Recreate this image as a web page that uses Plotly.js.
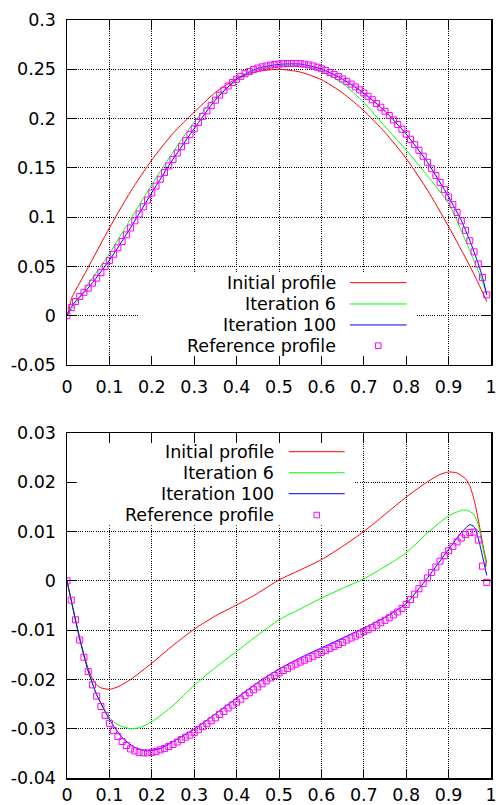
<!DOCTYPE html>
<html>
<head>
<meta charset="utf-8">
<script src="https://cdn.plot.ly/plotly-3.0.1.min.js"></script>
<style>html,body{margin:0;padding:0;background:#fff;}#chart{width:500px;height:805px;}</style>
</head>
<body>
<div id="chart"></div>
<script>
// ---------- data ----------
const legendLabels = ['Initial profile', 'Iteration 6', 'Iteration 100', 'Reference profile'];

const xTickVals = [0, 0.1, 0.2, 0.3, 0.4, 0.5, 0.6, 0.7, 0.8, 0.9, 1];
const xTickText = ['0', '0.1', '0.2', '0.3', '0.4', '0.5', '0.6', '0.7', '0.8', '0.9', '1'];
const topYTickVals = [-0.05, 0, 0.05, 0.1, 0.15, 0.2, 0.25, 0.3];
const topYTickText = ['-0.05', '0', '0.05', '0.1', '0.15', '0.2', '0.25', '0.3'];
const botYTickVals = [-0.04, -0.03, -0.02, -0.01, 0, 0.01, 0.02, 0.03];
const botYTickText = ['-0.04', '-0.03', '-0.02', '-0.01', '0', '0.01', '0.02', '0.03'];

// reference profile abscissae (shared by both panels)
const refX = [0, 0.01, 0.02, 0.03, 0.04, 0.05, 0.06, 0.07, 0.08, 0.09,
  0.10, 0.11, 0.12, 0.13, 0.14, 0.15, 0.16, 0.17, 0.18, 0.19,
  0.20, 0.21, 0.22, 0.23, 0.24, 0.25, 0.26, 0.27, 0.28, 0.29,
  0.30, 0.31, 0.32, 0.33, 0.34, 0.35, 0.36, 0.37, 0.38, 0.39,
  0.40, 0.41, 0.42, 0.43, 0.44, 0.45, 0.46, 0.47, 0.48, 0.49,
  0.50, 0.51, 0.52, 0.53, 0.54, 0.55, 0.56, 0.57, 0.58, 0.59,
  0.60, 0.61, 0.62, 0.63, 0.64, 0.65, 0.66, 0.67, 0.68, 0.69,
  0.70, 0.71, 0.72, 0.73, 0.74, 0.75, 0.76, 0.77, 0.78, 0.79,
  0.80, 0.81, 0.82, 0.83, 0.84, 0.85, 0.86, 0.87, 0.88, 0.89,
  0.90, 0.91, 0.92, 0.93, 0.94, 0.95, 0.96, 0.97, 0.98, 0.99];

// ---- top panel ----
const topRefY = [0, 0.0082, 0.0143, 0.0194, 0.0237, 0.0279, 0.0330, 0.0381, 0.0437, 0.0498,
  0.0559, 0.0623, 0.0689, 0.0753, 0.0820, 0.0890, 0.0962, 0.1032, 0.1105, 0.1174,
  0.1245, 0.1315, 0.1384, 0.1452, 0.1519, 0.1585, 0.1650, 0.1714, 0.1776, 0.1837,
  0.1895, 0.1960, 0.2022, 0.2078, 0.2132, 0.2186, 0.2238, 0.2287, 0.2330, 0.2366,
  0.2400, 0.2428, 0.2455, 0.2478, 0.2497, 0.2512, 0.2524, 0.2534, 0.2542, 0.2548,
  0.2553, 0.2556, 0.2558, 0.2559, 0.2559, 0.2557, 0.2552, 0.2544, 0.2534, 0.2521,
  0.2505, 0.2487, 0.2468, 0.2448, 0.2426, 0.2402, 0.2377, 0.2350, 0.2321, 0.2291,
  0.2259, 0.2226, 0.2191, 0.2154, 0.2115, 0.2074, 0.2031, 0.1986, 0.1940, 0.1892,
  0.1842, 0.1790, 0.1735, 0.1678, 0.1618, 0.1556, 0.1491, 0.1423, 0.1352, 0.1279,
  0.1204, 0.1127, 0.1047, 0.0962, 0.0866, 0.0760, 0.0648, 0.0525, 0.0388, 0.0212];

const topInitX = [0, 0.004, 0.008, 0.012, 0.02, 0.05, 0.1, 0.15, 0.2, 0.25, 0.3, 0.35, 0.4, 0.45, 0.5,
  0.55, 0.6, 0.65, 0.7, 0.75, 0.8, 0.85, 0.9, 0.95, 0.97, 0.99];
const topInitY = [0, 0.005, 0.013, 0.019, 0.0255, 0.049, 0.089, 0.126, 0.158, 0.185, 0.2065, 0.2265, 0.2405, 0.2478, 0.2500,
  0.2472, 0.2395, 0.2260, 0.2080, 0.1860, 0.1595, 0.1275, 0.0905, 0.0505, 0.0330, 0.0143];

const topIt6X = [0, 0.02, 0.05, 0.1, 0.15, 0.2, 0.25, 0.3, 0.35, 0.4, 0.45, 0.5, 0.53, 0.55, 0.6,
  0.65, 0.7, 0.75, 0.8, 0.85, 0.9, 0.925, 0.95, 0.975, 0.99];
const topIt6Y = [0, 0.012, 0.032, 0.063, 0.098, 0.133, 0.166, 0.1965, 0.221, 0.2385, 0.2495, 0.2535, 0.2540, 0.2535, 0.2485,
  0.2355, 0.2165, 0.1920, 0.1680, 0.1420, 0.1140, 0.0910, 0.0660, 0.0400, 0.0215];

const topIt100X = [0, 0.01, 0.02, 0.05, 0.1, 0.15, 0.2, 0.25, 0.3, 0.35, 0.4, 0.45, 0.5, 0.55, 0.6,
  0.65, 0.7, 0.75, 0.8, 0.85, 0.9, 0.93, 0.95, 0.97, 0.98, 0.99];
const topIt100Y = [0, 0.0085, 0.0145, 0.0281, 0.0562, 0.0893, 0.1248, 0.1588, 0.1898, 0.2188, 0.2400, 0.2510, 0.2550, 0.2553, 0.2502,
  0.2400, 0.2258, 0.2075, 0.1842, 0.1557, 0.1206, 0.0965, 0.0762, 0.0527, 0.0390, 0.0213];

// ---- bottom panel ----
const botRefY = [0, -0.0039, -0.0079, -0.0120, -0.0155, -0.0184, -0.0211, -0.0234, -0.0255, -0.0273,
  -0.0289, -0.0304, -0.0316, -0.0326, -0.0334, -0.0341, -0.0345, -0.0348, -0.0349, -0.0349,
  -0.0348, -0.0346, -0.0343, -0.0340, -0.0336, -0.0332, -0.0327, -0.0322, -0.0317, -0.0313,
  -0.0308, -0.0302, -0.0296, -0.0290, -0.0284, -0.0278, -0.0271, -0.0265, -0.0258, -0.0252,
  -0.0246, -0.0240, -0.0233, -0.0227, -0.0221, -0.0215, -0.0209, -0.0203, -0.0197, -0.0192,
  -0.0187, -0.0182, -0.0178, -0.0173, -0.0169, -0.0165, -0.0161, -0.0157, -0.0153, -0.0149,
  -0.0145, -0.0141, -0.0137, -0.0133, -0.0129, -0.0125, -0.0120, -0.0116, -0.0112, -0.0108,
  -0.0103, -0.0099, -0.0095, -0.0090, -0.0085, -0.0080, -0.0075, -0.0069, -0.0063, -0.0056,
  -0.0048, -0.0038, -0.0027, -0.0016, -0.0005, 0.0006, 0.0017, 0.0028, 0.0040, 0.0051,
  0.0061, 0.0070, 0.0079, 0.0087, 0.0094, 0.0098, 0.0099, 0.0083, 0.0030, -0.0003];

const botInitX = [0, 0.01, 0.02, 0.03, 0.04, 0.05, 0.06, 0.07, 0.08, 0.1, 0.12, 0.15, 0.2, 0.25, 0.3,
  0.35, 0.4, 0.45, 0.5, 0.55, 0.6, 0.65, 0.7, 0.75, 0.8, 0.85, 0.88, 0.9, 0.92, 0.94,
  0.95, 0.96, 0.97, 0.98, 0.99];
const botInitY = [0, -0.0039, -0.0078, -0.0115, -0.0150, -0.0178, -0.0199, -0.0211, -0.0217, -0.0220, -0.0215, -0.0200, -0.0167, -0.0131, -0.0098,
  -0.0071, -0.0049, -0.0025, 0.0002, 0.0022, 0.0043, 0.0070, 0.0100, 0.0135, 0.0170, 0.0201, 0.0216, 0.0221, 0.0219, 0.0207,
  0.0193, 0.0165, 0.0124, 0.0077, 0.0036];

const botIt6X = [0, 0.01, 0.02, 0.03, 0.05, 0.07, 0.1, 0.12, 0.15, 0.17, 0.2, 0.25, 0.3, 0.35, 0.4,
  0.45, 0.5, 0.55, 0.6, 0.65, 0.7, 0.75, 0.8, 0.85, 0.9, 0.935, 0.95, 0.96, 0.97, 0.98, 0.99];
const botIt6Y = [0, -0.0040, -0.0080, -0.0118, -0.0183, -0.0231, -0.0278, -0.0292, -0.0300, -0.0298, -0.0286, -0.0253, -0.0212, -0.0176, -0.0143,
  -0.0110, -0.0079, -0.0057, -0.0035, -0.0015, 0.0004, 0.0029, 0.0057, 0.0097, 0.0132, 0.0144, 0.0141, 0.0134, 0.0114, 0.0070, 0.0029];

const botIt100X = [0, 0.01, 0.02, 0.03, 0.05, 0.07, 0.1, 0.13, 0.16, 0.19, 0.22, 0.25, 0.3, 0.35, 0.4,
  0.45, 0.5, 0.55, 0.6, 0.65, 0.7, 0.75, 0.8, 0.85, 0.9, 0.93, 0.95, 0.96, 0.97, 0.98, 0.99];
const botIt100Y = [0, -0.0040, -0.0080, -0.0118, -0.0183, -0.0231, -0.0281, -0.0318, -0.0338, -0.0345, -0.0340, -0.0326, -0.0301, -0.0270, -0.0238,
  -0.0206, -0.0179, -0.0156, -0.0136, -0.0116, -0.0096, -0.0074, -0.0046, 0.0006, 0.0064, 0.0098, 0.0114, 0.0110, 0.0086, 0.0050, 0.0011];

// ---------- styles ----------
const C_INIT = '#ff0000', C_IT6 = '#00ff00', C_IT100 = '#0000ff', C_REF = '#ff00ff';
const FONT = {family: 'DejaVu Sans, sans-serif', size: 17.5, color: '#000'};

function lineTrace(x, y, color, xa, ya) {
  return {x: x, y: y, xaxis: xa, yaxis: ya, type: 'scatter', mode: 'lines',
    line: {color: color, width: 1, shape: 'spline', smoothing: 0.6}, showlegend: false, hoverinfo: 'skip'};
}
function refTrace(x, y, xa, ya) {
  return {x: x, y: y, xaxis: xa, yaxis: ya, type: 'scatter', mode: 'markers',
    marker: {symbol: 'square-open', size: 6, color: C_REF, line: {width: 1, color: C_REF}},
    showlegend: false, hoverinfo: 'skip'};
}

const data = [
  lineTrace(topInitX, topInitY, C_INIT, 'x', 'y'),
  lineTrace(topIt6X, topIt6Y, C_IT6, 'x', 'y'),
  lineTrace(topIt100X, topIt100Y, C_IT100, 'x', 'y'),
  refTrace(refX, topRefY, 'x', 'y'),
  lineTrace(botInitX, botInitY, C_INIT, 'x2', 'y2'),
  lineTrace(botIt6X, botIt6Y, C_IT6, 'x2', 'y2'),
  lineTrace(botIt100X, botIt100Y, C_IT100, 'x2', 'y2'),
  refTrace(refX, botRefY, 'x2', 'y2')
];

function axisBase(extra) {
  return Object.assign({
    showline: true, linecolor: '#000', linewidth: 1.5, mirror: 'ticks',
    ticks: 'inside', ticklen: 9, tickwidth: 1, tickcolor: '#000',
    showgrid: true, gridcolor: '#000', gridwidth: 1, griddash: '1px,1.2px',
    zeroline: false, tickfont: FONT, fixedrange: true, tickmode: 'array'
  }, extra);
}

const layout = {
  width: 500, height: 805,
  margin: {l: 67, r: 9, t: 20, b: 27},
  paper_bgcolor: '#fff', plot_bgcolor: '#fff',
  showlegend: false,
  font: FONT,
  xaxis: axisBase({domain: [0, 1], range: [0, 1], anchor: 'y', tickvals: xTickVals, ticktext: xTickText, ticklabelstandoff: 6}),
  yaxis: axisBase({domain: [0.5449, 1], range: [-0.05, 0.3], anchor: 'x', tickvals: topYTickVals, ticktext: topYTickText, ticklabelstandoff: 6}),
  xaxis2: axisBase({domain: [0, 1], range: [0, 1], anchor: 'y2', tickvals: xTickVals, ticktext: xTickText, ticklabelstandoff: 0}),
  yaxis2: axisBase({domain: [0, 0.4551], range: [-0.04, 0.03], anchor: 'x2', tickvals: botYTickVals, ticktext: botYTickText, ticklabelstandoff: 6}),
  shapes: [],
  annotations: []
};

// key boxes (opaque, no border) and key entries, gnuplot style: text right, sample to its right
function addKey(xa, ya, box, textX, sampleX0, sampleX1, rowsY) {
  const xr = xa + ' domain', yr = ya + ' domain';
  layout.shapes.push({type: 'rect', xref: xr, yref: yr,
    x0: box[0], x1: box[1], y0: box[2], y1: box[3], fillcolor: '#ffffff', line: {width: 0}, layer: 'above'});
  const cols = [C_INIT, C_IT6, C_IT100];
  const hw = 2.8 / 424, hh = 2.8 / 345;   // half-size of the point sample in domain units
  for (let i = 0; i < 4; i++) {
    layout.annotations.push({text: legendLabels[i], xref: xr, yref: yr,
      x: textX, y: rowsY[i], xanchor: 'right', yanchor: 'middle', showarrow: false, font: FONT});
    if (i < 3) {
      layout.shapes.push({type: 'line', xref: xr, yref: yr,
        x0: sampleX0, x1: sampleX1, y0: rowsY[i], y1: rowsY[i], line: {color: cols[i], width: 1}, layer: 'above'});
    } else {
      const xm = (sampleX0 + sampleX1) / 2;
      layout.shapes.push({type: 'rect', xref: xr, yref: yr,
        x0: xm - hw, x1: xm + hw, y0: rowsY[i] - hh, y1: rowsY[i] + hh,
        line: {color: C_REF, width: 1}, fillcolor: 'rgba(0,0,0,0)', layer: 'above'});
    }
  }
}
// box extents stop short of the inside ticks so ticks stay visible
addKey('x', 'y', [0.172, 0.825, 0.029, 0.267], 0.638, 0.667, 0.801, [0.2386, 0.1768, 0.1159, 0.0559]);
addKey('x2', 'y2', [0.023, 0.679, 0.733, 0.971], 0.4927, 0.523, 0.655, [0.9458, 0.8849, 0.8241, 0.7623]);

Plotly.newPlot('chart', data, layout, {staticPlot: true, displayModeBar: false});
</script>
</body>
</html>
